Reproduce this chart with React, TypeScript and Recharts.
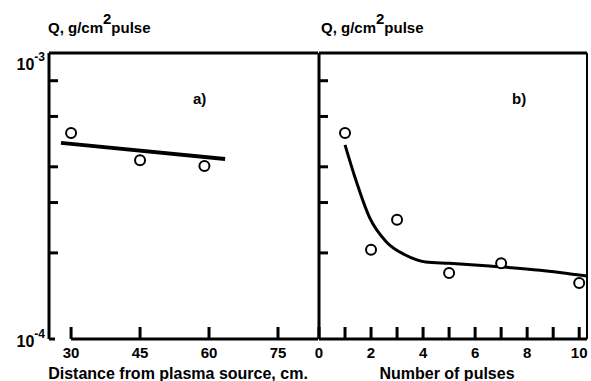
import React from 'react';
import { ComposedChart, Line, Scatter, XAxis, YAxis, ReferenceLine } from 'recharts';

const FONT = '"Liberation Sans Narrow", "Arial Narrow", "Liberation Sans", Arial, sans-serif';

// a) deposit vs distance from plasma source
const distanceX = [30, 45, 59];
const distanceQ = [5.25e-4, 4.22e-4, 4.03e-4];
const distanceFitX = [27.8, 63.5];
const distanceFitQ = [4.85e-4, 4.26e-4];
const distanceTicks = [30, 45, 60, 75];

// b) deposit vs number of pulses
const pulseX = [1, 2, 3, 5, 7, 10];
const pulseQ = [5.25e-4, 2.05e-4, 2.61e-4, 1.7e-4, 1.84e-4, 1.57e-4];
const pulseFitX = [1.0, 1.38, 1.95, 2.6, 3.3, 4.1, 5.0, 6.55, 8.5, 10.3];
const pulseFitQ = [4.77e-4, 3.68e-4, 2.65e-4, 2.18e-4, 1.97e-4, 1.86e-4, 1.84e-4, 1.8e-4, 1.74e-4, 1.66e-4];
const pulseTicks = [0, 1, 2, 3, 4, 5, 6, 7, 8, 9, 10];

const qTicks = [1e-4, 2e-4, 3e-4, 4e-4, 5e-4, 6e-4, 7e-4, 8e-4, 9e-4, 1e-3];

const zip = (xs: number[], ys: number[]) => xs.map((x, i) => ({ x, q: ys[i] }));

const distanceData = zip(distanceX, distanceQ);
const distanceFit = zip(distanceFitX, distanceFitQ);
const pulseData = zip(pulseX, pulseQ);
const pulseFit = zip(pulseFitX, pulseFitQ);

const textStyle = { fontFamily: FONT, fontWeight: 'bold' as const, fill: '#000' };

const Ring = (props: any) => (
  <circle cx={props.cx} cy={props.cy} r={5} fill="#fff" stroke="#000" strokeWidth={2} />
);

// inward ticks on the log axis, labels only at the decades
const QTick = (withLabels: boolean) => (props: any) => {
  const { x, y, payload } = props;
  const v = payload.value;
  const isTop = v > 9.9e-4;
  const isBottom = v < 1.01e-4;
  return (
    <g>
      {!isTop && !(isBottom && !withLabels) && (
        <line x1={x} x2={x + (isBottom ? 6 : 9)} y1={y} y2={y} stroke="#000" strokeWidth={3} />
      )}
      {withLabels && isTop && (
        <text x={x - 4} y={y + 17} textAnchor="end" fontSize={16} {...textStyle}>
          10<tspan dy={-9} fontSize={12}>-3</tspan>
        </text>
      )}
      {withLabels && isBottom && (
        <text x={x - 4} y={y + 8} textAnchor="end" fontSize={16} {...textStyle}>
          10<tspan dy={-9} fontSize={12}>-4</tspan>
        </text>
      )}
    </g>
  );
};

const XTick = (showLabel: (v: number) => boolean) => (props: any) => {
  const { x, y, payload } = props;
  return (
    <g>
      <line x1={x} x2={x} y1={y - 12} y2={y} stroke="#000" strokeWidth={3} />
      {showLabel(payload.value) && (
        <text x={x} y={y + 19} textAnchor="middle" fontSize={15} {...textStyle}>
          {payload.value}
        </text>
      )}
    </g>
  );
};

const label = (left: number, top: number, size: number): React.CSSProperties => ({
  position: 'absolute',
  left,
  top,
  fontFamily: FONT,
  fontWeight: 'bold',
  fontSize: size,
  lineHeight: 1,
  whiteSpace: 'nowrap',
  color: '#000',
});

const QLabel = ({ left }: { left: number }) => (
  <div style={label(left, 20, 15)}>
    Q, g/cm<sup style={{ fontSize: 15, verticalAlign: 0, position: 'relative', top: -9 }}>2</sup>pulse
  </div>
);

export default function App() {
  return (
    <div style={{ position: 'absolute', left: 0, top: 0, width: 591, height: 381, background: '#fff', overflow: 'hidden' }}>
      <div style={{ position: 'absolute', left: 0, top: 0 }}>
        <ComposedChart width={320} height={381} margin={{ top: 53, right: 2, bottom: 0, left: 0 }}>
          <XAxis
            type="number"
            dataKey="x"
            domain={[25.2, 83.7]}
            ticks={distanceTicks}
            allowDataOverflow
            height={42}
            axisLine={false}
            tickLine={false}
            tickSize={0}
            tickMargin={0}
            tick={XTick(() => true)}
          />
          <YAxis
            type="number"
            scale="log"
            domain={[1e-4, 1e-3]}
            ticks={qTicks}
            allowDataOverflow
            width={49}
            axisLine={{ stroke: '#000', strokeWidth: 3 }}
            tickLine={false}
            tickSize={0}
            tickMargin={0}
            tick={QTick(true)}
          />
          <ReferenceLine y={1e-3} stroke="#000" strokeWidth={3} />
          <ReferenceLine segment={[{ x: 30, y: 1e-4 }, { x: 83.7, y: 1e-4 }]} stroke="#000" strokeWidth={3} />
          <Line data={distanceFit} dataKey="q" type="linear" stroke="#000" strokeWidth={4} dot={false} isAnimationActive={false} />
          <Scatter data={distanceData} dataKey="q" shape={Ring} isAnimationActive={false} />
        </ComposedChart>
      </div>
      <div style={{ position: 'absolute', left: 300, top: 0 }}>
        <ComposedChart width={291} height={381} margin={{ top: 53, right: 4, bottom: 0, left: 0 }}>
          <XAxis
            type="number"
            dataKey="x"
            domain={[0, 10.3]}
            ticks={pulseTicks}
            allowDataOverflow
            height={42}
            axisLine={{ stroke: '#000', strokeWidth: 3 }}
            tickLine={false}
            tickSize={0}
            tickMargin={0}
            tick={XTick((v) => v % 2 === 0)}
          />
          <YAxis
            type="number"
            scale="log"
            domain={[1e-4, 1e-3]}
            ticks={qTicks}
            allowDataOverflow
            width={19}
            axisLine={{ stroke: '#000', strokeWidth: 3 }}
            tickLine={false}
            tickSize={0}
            tickMargin={0}
            tick={QTick(false)}
          />
          <ReferenceLine y={1e-3} stroke="#000" strokeWidth={3} />
          <ReferenceLine x={10.3} stroke="#000" strokeWidth={2} />
          <Line data={pulseFit} dataKey="q" type="monotone" stroke="#000" strokeWidth={3} dot={false} isAnimationActive={false} />
          <Scatter data={pulseData} dataKey="q" shape={Ring} isAnimationActive={false} />
        </ComposedChart>
      </div>

      <QLabel left={48} />
      <QLabel left={321} />
      <div style={label(193, 91, 15)}>a)</div>
      <div style={label(512, 91, 15)}>b)</div>
      <div style={{ ...label(0, 366, 16), width: 356, textAlign: 'center' }}>Distance from plasma source, cm.</div>
      <div style={{ ...label(300, 366, 16), width: 294, textAlign: 'center' }}>Number of pulses</div>
    </div>
  );
}
